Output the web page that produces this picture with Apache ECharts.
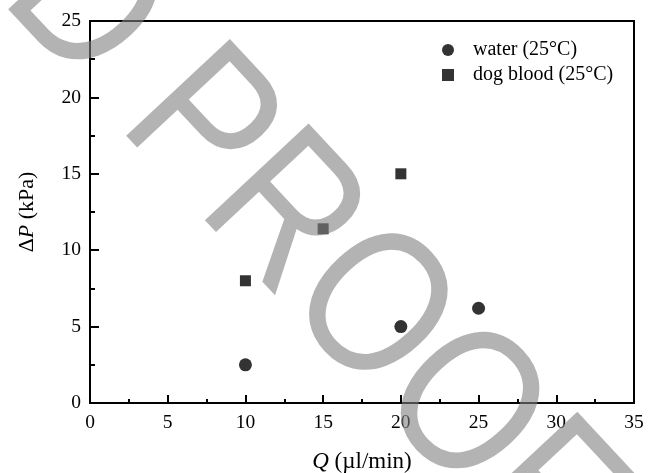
<!DOCTYPE html>
<html>
<head>
<meta charset="utf-8">
<script src="https://cdn.jsdelivr.net/npm/echarts@6/dist/echarts.min.js"></script>
<style>
  html, body { margin: 0; padding: 0; background: #fff; }
  #chart { width: 656px; height: 473px; }
</style>
</head>
<body>
<div id="chart"></div>
<script>
// ---- data ----
const seriesNames = ['water (25°C)', 'dog blood (25°C)'];
const waterQ = [10, 20, 25];
const waterP = [2.5, 5.0, 6.2];
const bloodQ = [10, 15, 20];
const bloodP = [8.0, 11.4, 15.0];
const xRange = [0, 35];
const yRange = [0, 25];
const tickStep = 5;
const watermarkText = 'D PROOF';

const FONT = '"Liberation Serif", "Times New Roman", serif';

const chart = echarts.init(document.getElementById('chart'), null, { renderer: 'canvas' });

const option = {
  backgroundColor: '#ffffff',
  animation: false,
  grid: {
    left: 90, right: 22, top: 21, bottom: 70,
    containLabel: false,
    outerBoundsMode: 'none',
    show: true, borderColor: '#000', borderWidth: 2, backgroundColor: 'transparent'
  },
  legend: {
    orient: 'vertical',
    left: 442, top: 40,
    padding: 0,
    itemGap: 5,
    itemWidth: 12, itemHeight: 12,
    textStyle: { fontFamily: FONT, fontSize: 20, color: '#000', padding: [0, 0, 0, 14] },
    data: [
      { name: seriesNames[0], icon: 'circle' },
      { name: seriesNames[1], icon: 'rect' }
    ]
  },
  xAxis: {
    type: 'value',
    min: xRange[0], max: xRange[1], interval: tickStep,
    name: '{i|Q} (µl/min)',
    nameLocation: 'middle',
    nameGap: 47,
    nameTextStyle: {
      fontFamily: FONT, fontSize: 23, color: '#000',
      rich: { i: { fontFamily: FONT, fontSize: 23, fontStyle: 'italic', color: '#000' } }
    },
    axisLine: { show: true, onZero: false, lineStyle: { color: '#000', width: 2 } },
    axisTick: { show: true, inside: true, length: 8, lineStyle: { color: '#000', width: 2 } },
    minorTick: { show: true, splitNumber: 2, length: 4, lineStyle: { color: '#000', width: 2 } },
    axisLabel: { fontFamily: FONT, fontSize: 19.5, color: '#000', margin: 10 },
    splitLine: { show: false }
  },
  yAxis: {
    type: 'value',
    min: yRange[0], max: yRange[1], interval: tickStep,
    name: '{d|Δ}{i|P} (kPa)',
    nameLocation: 'middle',
    nameGap: 52,
    nameTextStyle: {
      fontFamily: FONT, fontSize: 22, color: '#000',
      rich: {
        d: { fontFamily: FONT, fontSize: 22, color: '#000' },
        i: { fontFamily: FONT, fontSize: 22, fontStyle: 'italic', color: '#000' }
      }
    },
    axisLine: { show: true, onZero: false, lineStyle: { color: '#000', width: 2 } },
    axisTick: { show: true, inside: true, length: 9, lineStyle: { color: '#000', width: 2 } },
    minorTick: { show: true, splitNumber: 2, length: 5, lineStyle: { color: '#000', width: 2 } },
    axisLabel: { fontFamily: FONT, fontSize: 19.5, color: '#000', margin: 9 },
    splitLine: { show: false }
  },
  series: [
    {
      name: seriesNames[0],
      type: 'scatter',
      symbol: 'circle',
      symbolSize: 13,
      itemStyle: { color: '#000' },
      data: waterQ.map((q, i) => [q, waterP[i]])
    },
    {
      name: seriesNames[1],
      type: 'scatter',
      symbol: 'rect',
      symbolSize: 11,
      itemStyle: { color: '#000' },
      data: bloodQ.map((q, i) => [q, bloodP[i]])
    }
  ],
  graphic: [
    {
      type: 'text',
      silent: true,
      z: 100,
      zlevel: 0,
      x: 40, y: -40,
      rotation: -47 * Math.PI / 180,
      scaleX: 0.84,
      scaleY: 1,
      style: {
        text: watermarkText,
        font: '206px "Liberation Sans", Arial, sans-serif',
        fill: 'rgba(128,128,128,0.6)',
        align: 'left', textAlign: 'left',
        verticalAlign: 'middle', textVerticalAlign: 'middle'
      }
    }
  ]
};

chart.setOption(option);
</script>
</body>
</html>
